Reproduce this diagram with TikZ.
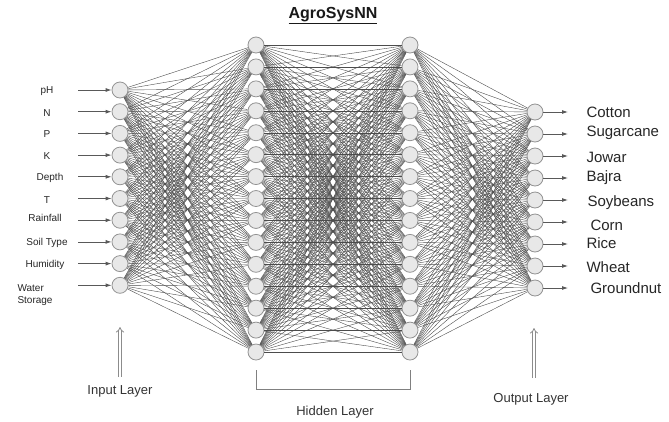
\documentclass[tikz,border=0pt]{standalone}
\usepackage{fontspec}
\setmainfont{Liberation Sans}
\usetikzlibrary{arrows.meta}
\begin{document}
\begin{tikzpicture}[x=1pt,y=-1pt,>={Latex[length=6pt,width=4pt]},
    neuron/.style={circle,draw=gray!85,fill=gray!18,line width=0.8pt,minimum size=16pt,inner sep=0pt},
    link/.style={draw=black!70,line width=0.4pt},
    feed/.style={draw=black!65,line width=0.8pt,->},
    hollow/.style={draw=black!45,double=white,double distance=2pt,line width=0.8pt,-{Implies}},
    inlbl/.style={font=\fontsize{10}{12}\selectfont,text=black!85,align=left},
    outlbl/.style={font=\fontsize{15}{17}\selectfont,text=black!85,anchor=west},
    laylbl/.style={font=\fontsize{13}{15}\selectfont,text=black!80}]
    \useasboundingbox (0,0) rectangle (669,421);
    % neurons
    \foreach \i in {1,...,10}
        \node[neuron] (in\i) at (120,{90+(\i-1)*21.7}) {};
    \foreach \i in {1,...,15}{
        \node[neuron] (ha\i) at (256,{45+(\i-1)*21.93}) {};
        \node[neuron] (hb\i) at (410,{45+(\i-1)*21.93}) {};
    }
    \foreach \i in {1,...,9}
        \node[neuron] (out\i) at (535,{112+(\i-1)*22}) {};
    % weights
    \foreach \a in {1,...,10}
        \foreach \b in {1,...,15}
            \draw[link] (in\a) -- (ha\b);
    \foreach \a in {1,...,15}
        \foreach \b in {1,...,15}
            \draw[link] (ha\a) -- (hb\b);
    \foreach \a in {1,...,15}
        \foreach \b in {1,...,9}
            \draw[link] (hb\a) -- (out\b);
    % inputs
    \foreach \t/\lx/\ly [count=\i] in {pH/47/91,N/47/113,P/47/134,K/47/156,Depth/50/178,T/47/200,Rainfall/45/218,Soil Type/47/243,Humidity/45/265}
        \node[inlbl] (inl\i) at (\lx,\ly) {\t};
    \node[inlbl,anchor=west] (inl10) at (14,295) {Water\\Storage};
    \foreach \i in {1,...,10}{
        \coordinate (is\i) at (in\i -| 78,0);
        \draw[feed] (is\i) -- (in\i);
    }
    % outputs
    \foreach \t/\lx/\ly [count=\i] in {Cotton/583/112,Sugarcane/583/133,Jowar/583/157,Bajra/583/178,Soybeans/584/203,Corn/587/225,Rice/583/243,Wheat/583/267,Groundnut/587/288}
        \node[outlbl] (outl\i) at (\lx,\ly) {\t};
    \foreach \i in {1,...,9}{
        \coordinate (oe\i) at (out\i -| 568,0);
        \draw[feed] (out\i) -- (oe\i);
    }
    % title and layer names
    \node[font=\bfseries\fontsize{16}{18}\selectfont,text=black!90] (title) at (333,16) {\underline{AgroSysNN}};
    \node[laylbl] (inlay) at (120,391) {Input Layer};
    \node[laylbl] (hidlay) at (335,412) {Hidden Layer};
    \node[laylbl] (outlay) at (531,399) {Output Layer};
    \coordinate (inbot) at (120,377);
    \coordinate (intop) at (120,327);
    \coordinate (outbot) at (534,378);
    \coordinate (outtop) at (534,328);
    \draw[hollow] (inbot) -- (intop);
    \draw[hollow] (outbot) -- (outtop);
    \draw[gray,line width=0.7pt] ([yshift=-18pt]ha15.center) |- ([yshift=-37pt]hb15.center) -- ([yshift=-18pt]hb15.center);
\end{tikzpicture}
\end{document}
